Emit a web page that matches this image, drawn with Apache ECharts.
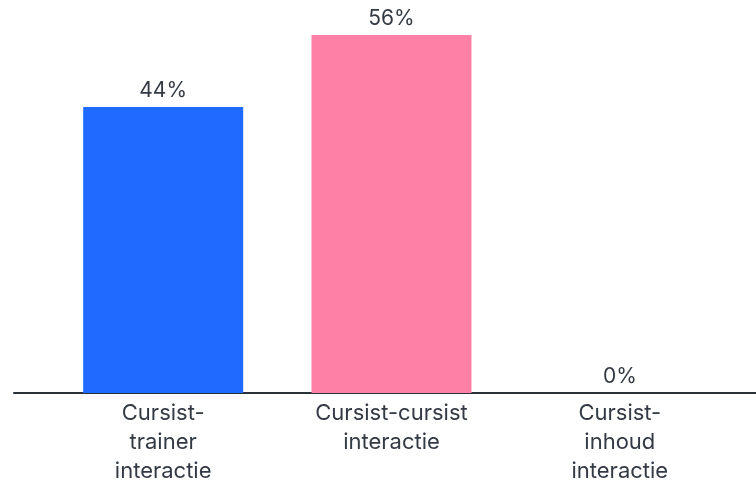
<!DOCTYPE html>
<html><head><meta charset="utf-8">
<script src="https://cdn.jsdelivr.net/npm/echarts@6/dist/echarts.min.js"></script>
<style>html,body{margin:0;padding:0;background:#fff}#c{width:756px;height:483px}</style>
</head><body><div id="c"></div>
<script>
const categories = ['Cursist-\ntrainer\ninteractie', 'Cursist-cursist\ninteractie', 'Cursist-\ninhoud\ninteractie'];
const values = [44.4, 55.6, 0];
const labels = ['44%', '56%', '0%'];
const colors = ['#1F6BFF', '#FF80A7', '#888888'];

const chart = echarts.init(document.getElementById('c'));
const font = 'Inter, "Open Sans", sans-serif';
chart.setOption({
  animation: false,
  grid: [
    {left: 49, right: 22, top: 35, bottom: 90, containLabel: false, outerBoundsMode: 'none'},
    {left: 14, right: 0, top: 35, bottom: 90, containLabel: false, outerBoundsMode: 'none'}
  ],
  xAxis: [
    {type: 'category', gridIndex: 0, data: categories,
     axisLine: {show: true, lineStyle: {color: '#2b313b', width: 2}}, axisTick: {show: false},
     axisLabel: {color: '#333a44', fontSize: 22, fontFamily: font, lineHeight: 29, margin: 6}},
    {type: 'category', gridIndex: 1, data: [''],
     axisLine: {show: true, lineStyle: {color: '#2b313b', width: 2}},
     axisTick: {show: false}, axisLabel: {show: false}}
  ],
  yAxis: [
    {type: 'value', gridIndex: 0, min: 0, max: 'dataMax', show: false, splitLine: {show: false}},
    {type: 'value', gridIndex: 1, min: 0, max: 1, show: false, splitLine: {show: false}}
  ],
  series: [{
    type: 'bar', xAxisIndex: 0, yAxisIndex: 0,
    barWidth: 160,
    data: values.map((v, i) => ({value: v, itemStyle: {color: colors[i]}})),
    label: {show: true, position: 'top', distance: 6,
      formatter: p => labels[p.dataIndex],
      color: '#333a44', fontSize: 21, fontFamily: font}
  }]
});
</script></body></html>
